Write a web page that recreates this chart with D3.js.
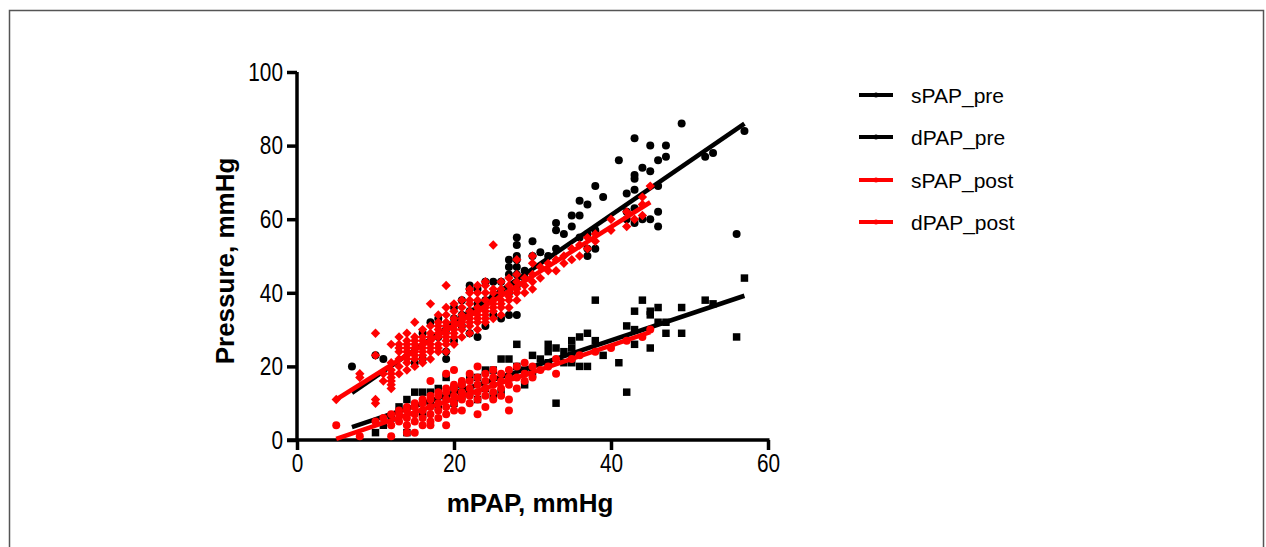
<!DOCTYPE html>
<html>
<head>
<meta charset="utf-8">
<script src="https://cdn.jsdelivr.net/npm/d3@7"></script>
<style>
  body { margin: 0; background: #fff; }
  svg { display: block; }
</style>
</head>
<body>
<svg id="chart" width="1266" height="547"></svg>
<script>
// tick values
const xTicks = [0, 20, 40, 60];
const yTicks = [0, 20, 40, 60, 80, 100];

// legend names
const seriesNames = ["sPAP_pre", "dPAP_pre", "sPAP_post", "dPAP_post"];

// sPAP_pre, black circles [mPAP, pressure]
const sPAPpre = [
  [7,20],[10,23],[11,22],[15,21],[16,22],[16,29],[17,32],[18,28],[18,33],[19,22],[19,24],[19,30],
  [20,27],[20,33],[20,36],[21,31],[21,34],[21,38],[22,29],[22,35],[22,41],[22,42],[23,28],[23,37],[23,41],
  [24,31],[24,38],[24,43],[25,34],[25,39],[25,43],[26,33],[26,40],[26,43],[27,34],[27,40],[27,45],
  [27,47],[27,49],[28,34],[28,42],[28,45],[28,47],[28,49],[28,50],[28,53],[28,55],[29,44],[29,46],
  [30,50],[30,54],[31,51],[32,50],[33,52],[33,57],[33,59],[34,56],[35,58],[35,61],[36,55],[36,61],
  [36,65],[37,50],[37,52],[37,56],[37,64],[38,52],[38,57],[38,69],[39,66],[41,76],[42,60],[42,62],
  [42,67],[43,59],[43,63],[43,68],[43,71],[43,72],[43,82],[44,60],[44,74],[45,60],[45,73],[45,80],
  [46,58],[46,62],[46,69],[46,76],[47,77],[47,80],[49,86],[52,77],[53,78],[56,56],[57,84]
];

// dPAP_pre, black squares
const dPAPpre = [
  [10,2],[11,4],[12,6],[13,9],[14,2],[14,11],[15,13],[16,7],[16,13],[17,10],[17,13],[18,9],[18,14],
  [19,12],[19,17],[20,10],[20,14],[21,12],[21,15],[22,13],[22,17],[23,11],[23,17],[24,14],[24,19],
  [25,12],[25,19],[26,13],[26,22],[27,17],[27,22],[28,20],[28,26],[29,15],[29,19],[30,18],[30,23],
  [31,22],[32,21],[32,24],[32,26],[33,10],[33,25],[34,21],[34,24],[35,21],[35,23],[35,25],[35,27],
  [36,20],[36,28],[37,20],[37,29],[38,27],[38,38],[39,23],[41,21],[42,13],[42,31],[43,26],[43,30],
  [43,35],[44,38],[45,25],[45,34],[45,35],[46,32],[46,36],[47,29],[47,32],[49,29],[49,36],[52,38],
  [53,37],[56,28],[57,44]
];

// sPAP_post, red diamonds
const sPAPpost = [
  [5,11],[8,17],[8,18],[10,10],[10,11],[10,23],[10,29],[11,16],[11,18],
  [12,14],[12,15],[12,16],[12,17],[12,18],[12,19],[12,21],[12,26],
  [13,18],[13,20],[13,22],[13,24],[13,25],[13,26],[13,28],
  [14,19],[14,21],[14,22],[14,23],[14,24],[14,25],[14,26],[14,27],[14,29],
  [15,20],[15,22],[15,23],[15,24],[15,25],[15,26],[15,27],[15,28],[15,32],
  [16,21],[16,22],[16,23],[16,24],[16,25],[16,26],[16,27],[16,28],[16,30],
  [17,22],[17,24],[17,25],[17,26],[17,27],[17,28],[17,29],[17,31],[17,37],
  [18,24],[18,25],[18,26],[18,28],[18,29],[18,30],[18,31],[18,32],[18,34],
  [19,24],[19,26],[19,27],[19,28],[19,29],[19,30],[19,31],[19,32],[19,34],[19,36],[19,42],
  [20,26],[20,28],[20,29],[20,30],[20,31],[20,32],[20,33],[20,35],[20,37],
  [21,28],[21,30],[21,31],[21,32],[21,33],[21,34],[21,36],[21,38],
  [22,29],[22,31],[22,32],[22,33],[22,34],[22,35],[22,37],[22,38],[22,40],[22,41],
  [23,30],[23,32],[23,33],[23,34],[23,35],[23,36],[23,38],[23,40],[23,42],
  [24,32],[24,33],[24,34],[24,35],[24,36],[24,38],[24,40],[24,42],[24,43],
  [25,33],[25,35],[25,36],[25,37],[25,38],[25,40],[25,41],[25,53],
  [26,34],[26,36],[26,37],[26,38],[26,40],[26,41],[26,43],
  [27,36],[27,38],[27,39],[27,40],[27,42],[27,44],
  [28,38],[28,40],[28,41],[28,43],[28,45],[28,49],
  [29,40],[29,42],[29,44],[30,41],[30,43],[30,45],[30,48],[30,50],
  [31,44],[31,47],[32,46],[32,48],[33,46],[33,49],[34,48],[34,50],[35,49],[35,52],
  [36,50],[36,53],[37,52],[37,55],[38,54],[38,56],[40,57],[40,60],[42,58],[42,62],
  [43,60],[44,61],[44,64],[44,66],[45,69]
];

// dPAP_post, red circles
const dPAPpost = [
  [5,4],[8,1],[10,5],[11,6],[12,1],[12,4],[12,7],[13,5],[13,7],[13,8],
  [14,2],[14,4],[14,6],[14,8],[14,9],[15,2],[15,5],[15,7],[15,9],[15,10],
  [16,4],[16,6],[16,8],[16,10],[16,11],[17,4],[17,5],[17,7],[17,9],[17,11],[17,12],[17,16],
  [18,6],[18,8],[18,10],[18,12],[18,13],[19,4],[19,7],[19,9],[19,11],[19,13],[19,14],[19,18],
  [20,8],[20,10],[20,12],[20,14],[20,15],[20,19],[21,8],[21,11],[21,13],[21,15],[21,16],
  [22,10],[22,12],[22,14],[22,16],[22,18],[23,7],[23,11],[23,13],[23,15],[23,17],[23,20],
  [24,9],[24,12],[24,14],[24,16],[24,18],[25,11],[25,13],[25,15],[25,17],[25,19],
  [26,12],[26,14],[26,16],[26,18],[27,8],[27,11],[27,15],[27,17],[27,19],
  [28,14],[28,17],[28,20],[29,16],[29,18],[29,21],[30,17],[30,20],[31,19],[32,20],
  [33,18],[33,22],[35,22],[36,23],[38,24],[40,25],[42,27],[44,28],[45,30]
];

// fitted lines [x, y] at both ends
const sPAPpreFit = [[7,12.8],[57,86]];
const dPAPpreFit = [[7,3.5],[57,39.2]];
const sPAPpostFit = [[5,11],[45,64.6]];
const dPAPpostFit = [[5,0.3],[45,29.3]];

const svg = d3.select("#chart");

// frame around the figure
svg.append("rect")
  .attr("x", 9.5).attr("y", 10.5)
  .attr("width", 1254).attr("height", 560)
  .attr("fill", "none")
  .attr("stroke", "#555")
  .attr("stroke-width", 1.5);

// scales
const x = d3.scaleLinear().domain([0, 60]).range([297, 768]);
const y = d3.scaleLinear().domain([0, 100]).range([440, 72]);

// x axis
const xAxis = svg.append("g")
  .attr("transform", "translate(0,440)")
  .call(d3.axisBottom(x).tickValues(xTicks).tickSize(10).tickPadding(4).tickSizeOuter(0));

// y axis
const yAxis = svg.append("g")
  .attr("transform", "translate(297,0)")
  .call(d3.axisLeft(y).tickValues(yTicks).tickSize(10).tickPadding(4).tickSizeOuter(0));

[xAxis, yAxis].forEach(g => {
  g.select(".domain").attr("stroke", "#000").attr("stroke-width", 3.5);
  g.selectAll(".tick line").attr("stroke", "#000").attr("stroke-width", 3.5);
  g.selectAll(".tick text")
    .attr("fill", "#000")
    .style("font-family", "'Liberation Sans', Arial, sans-serif")
    .style("font-size", "26px")
    // squeeze the digits, the original uses a narrow face
    .each(function () {
      const w = this.getComputedTextLength();
      d3.select(this)
        .attr("textLength", w * 0.8)
        .attr("lengthAdjust", "spacingAndGlyphs");
    });
});
// stretch the x domain line so it meets the y ticks
xAxis.select(".domain").attr("d", `M287,0H${x(60) + 1.5}`);
yAxis.select(".domain").attr("d", `M0,${y(100)}V${y(0) + 1.5}`);

// axis titles
svg.append("text")
  .attr("x", 530).attr("y", 512)
  .attr("text-anchor", "middle")
  .style("font-family", "'Liberation Sans', Arial, sans-serif")
  .style("font-weight", "bold")
  .style("font-size", "26px")
  .text("mPAP, mmHg");

svg.append("text")
  .attr("transform", "translate(234,261) rotate(-90)")
  .attr("text-anchor", "middle")
  .style("font-family", "'Liberation Sans', Arial, sans-serif")
  .style("font-weight", "bold")
  .style("font-size", "26px")
  .text("Pressure, mmHg");

const line = d3.line().x(d => x(d[0])).y(d => y(d[1]));

// a diamond is a square turned 45 degrees
const diamond = d3.symbol().type(d3.symbolSquare).size(44);
const square = d3.symbol().type(d3.symbolSquare).size(56);

// draw one series: points then its fit line, like Prism does
function drawSeries(points, fit, color, kind) {
  const g = svg.append("g");
  if (kind === "circle") {
    g.selectAll("circle").data(points).join("circle")
      .attr("cx", d => x(d[0]))
      .attr("cy", d => y(d[1]))
      .attr("r", 4)
      .attr("fill", color);
  } else {
    g.selectAll("path").data(points).join("path")
      .attr("d", kind === "square" ? square : diamond)
      .attr("transform", d => `translate(${x(d[0])},${y(d[1])})` + (kind === "diamond" ? " rotate(45)" : ""))
      .attr("fill", color);
  }
  svg.append("path")
    .datum(fit)
    .attr("d", line)
    .attr("fill", "none")
    .attr("stroke", color)
    .attr("stroke-width", 4.5);
}

drawSeries(sPAPpre, sPAPpreFit, "#000", "circle");
drawSeries(dPAPpre, dPAPpreFit, "#000", "square");
drawSeries(sPAPpost, sPAPpostFit, "#ff0000", "diamond");
drawSeries(dPAPpost, dPAPpostFit, "#ff0000", "circle");

// legend
const legendColors = ["#000", "#000", "#ff0000", "#ff0000"];
const legendY = [95, 137, 180, 222];
const legend = svg.append("g");
seriesNames.forEach((name, i) => {
  legend.append("line")
    .attr("x1", 859).attr("x2", 893)
    .attr("y1", legendY[i]).attr("y2", legendY[i])
    .attr("stroke", legendColors[i])
    .attr("stroke-width", 4);
  legend.append("circle")
    .attr("cx", 876).attr("cy", legendY[i])
    .attr("r", 2.5)
    .attr("fill", legendColors[i]);
  legend.append("text")
    .attr("x", 911).attr("y", legendY[i])
    .attr("dy", "0.36em")
    .style("font-family", "'Liberation Sans', Arial, sans-serif")
    .style("font-size", "21px")
    .text(name);
});
</script>
</body>
</html>
